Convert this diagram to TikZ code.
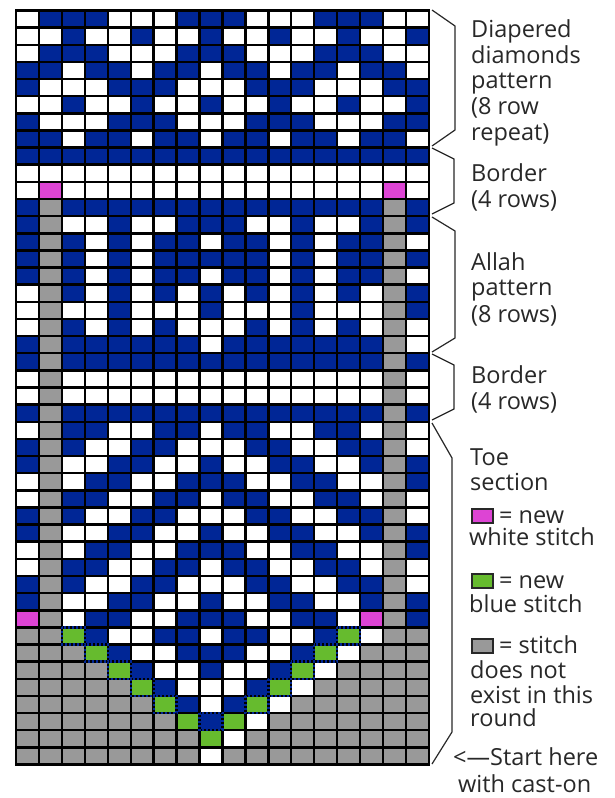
\documentclass[tikz,border=0pt]{standalone}
\usepackage{fontspec}
\setmainfont{Open Sans}
\definecolor{cB}{RGB}{0,38,150}
\definecolor{cW}{RGB}{255,255,255}
\definecolor{cG}{RGB}{153,153,153}
\definecolor{cP}{RGB}{221,68,212}
\definecolor{cL}{RGB}{102,187,46}
\definecolor{txt}{RGB}{40,40,40}
\def\xo{16.2}\def\yo{10.5}\def\cw{22.92}\def\ch{17.136}
\newcount\colidx
\newcommand\cellrow[2]{\global\colidx=0 \def\currow{#1}\cellparse#2\relax}
\def\cellparse#1{\ifx#1\relax\else\global\advance\colidx by 1
  \fill[c#1] ({\xo+(\the\colidx-1)*\cw},{\yo+(\currow-1)*\ch}) rectangle ++(\cw,\ch);%
  \expandafter\cellparse\fi}
\newcommand\seamcell[2]{\draw[seam] ({\xo+(#2-1)*\cw},{\yo+(#1-1)*\ch}) rectangle ++(\cw,\ch);}
\begin{document}
\begin{tikzpicture}[x=1pt,y=-1pt,
  lab/.style={anchor=base west, inner sep=0pt, text=txt, font=\fontsize{23.5}{26}\selectfont},
  brk/.style={draw=txt, line width=1.2pt, line join=miter},
  gridln/.style={line width=2.5pt, draw=black},
  seam/.style={draw=cB, line width=2.4pt, dash pattern=on 2pt off 2pt},
  keybox/.style={draw=txt, line width=2pt, minimum width=21pt, minimum height=14pt, inner sep=0pt, anchor=north west}]
\fill[white] (0,0) rectangle (615,798);
\useasboundingbox (0,0) rectangle (615,798);
% chart cells
\cellrow{1}{WBBBWWWBBBWWWBBBWW}
\cellrow{2}{WWBWWBWWBWWBWWBWWB}
\cellrow{3}{WBBBWWWBBBWWWBBBWW}
\cellrow{4}{BBWBBWBBWBBWBBWBBW}
\cellrow{5}{BWWWBBBWWWBBBWWWBB}
\cellrow{6}{WWBWWBWWBWWBWWBWWB}
\cellrow{7}{BWWWBBBWWWBBBWWWBB}
\cellrow{8}{BBWBBWBBWBBWBBWBBW}
\cellrow{9}{BBBBBBBBBBBBBBBBBB}
\cellrow{10}{WWWWWWWWWWWWWWWWWW}
\cellrow{11}{WPWWWWWWWWWWWWWWPW}
\cellrow{12}{BGBBBBBBBBBBBBBBGB}
\cellrow{13}{BGWWBWWBBBWWBWWBGB}
\cellrow{14}{BGBWBWBBWBBWBWBBGW}
\cellrow{15}{BGBWBWBBBBBWBWBBGB}
\cellrow{16}{BGBWBWBBWBBWBWBBGW}
\cellrow{17}{WGBWBWBWBWBWBWBWGB}
\cellrow{18}{WGWWBWWWBWWWBWWWGB}
\cellrow{19}{WGBWBWBWWWBWBWBWGW}
\cellrow{20}{BGBBBBBBWBBBBBBBGW}
\cellrow{21}{BGBBBBBBBBBBBBBBGB}
\cellrow{22}{WGWWWWWWWWWWWWWWGW}
\cellrow{23}{WGWWWWWWWWWWWWWWGW}
\cellrow{24}{BGBBBBBBBBBBBBBBGB}
\cellrow{25}{WGBBWWBBWBBWWBBWGW}
\cellrow{26}{BGBWWBBWWWBBWWBBGW}
\cellrow{27}{BGWWBBWWBWWBBWWBGB}
\cellrow{28}{WGWBBWWBBBWWBBWWGB}
\cellrow{29}{WGBBWWBBWBBWWBBWGW}
\cellrow{30}{BGBWWBBWWWBBWWBBGW}
\cellrow{31}{BGWWBBWWBWWBBWWBGB}
\cellrow{32}{WGWBBWWBBBWWBBWWGB}
\cellrow{33}{WGBBWWBBWBBWWBBWGW}
\cellrow{34}{BGBWWBBWWWBBWWBBGW}
\cellrow{35}{BGWWBBWWBWWBBWWBGB}
\cellrow{36}{PGWBBWWBBBWWBBWPGB}
\cellrow{37}{GGLBWWBBWBBWWBLWGG}
\cellrow{38}{GGGLBWWBBBWWBLWGGG}
\cellrow{39}{GGGGLBWWBWWBLWGGGG}
\cellrow{40}{GGGGGLBWWWBLWGGGGG}
\cellrow{41}{GGGGGGLBWBLWGGGGGG}
\cellrow{42}{GGGGGGGLBLWGGGGGGG}
\cellrow{43}{GGGGGGGGLWGGGGGGGG}
\cellrow{44}{GGGGGGGGWGGGGGGGGG}
% grid lines
\foreach \i in {1,...,17} \draw[gridln] ({\xo+\i*\cw},\yo) -- ++(0,{44*\ch});
\foreach \j in {1,...,43} \draw[gridln] (\xo,{\yo+\j*\ch}) -- ++({18*\cw},0);
\draw[gridln] (\xo,\yo) rectangle ++({18*\cw},{44*\ch});
% dotted seams around increases
\seamcell{37}{3}\seamcell{37}{15}
\seamcell{38}{4}\seamcell{38}{14}
\seamcell{39}{5}\seamcell{39}{13}
\seamcell{40}{6}\seamcell{40}{12}
\seamcell{41}{7}\seamcell{41}{11}
\seamcell{42}{9}
% brackets
\coordinate (b1a) at (432,10);  \coordinate (b1b) at (455,26);  \coordinate (b1c) at (455,130); \coordinate (b1d) at (432,146);
\coordinate (b2a) at (432,148); \coordinate (b2b) at (454,159); \coordinate (b2c) at (454,203); \coordinate (b2d) at (432,214);
\coordinate (b3a) at (432,217); \coordinate (b3b) at (455,231); \coordinate (b3c) at (455,338); \coordinate (b3d) at (432,352);
\coordinate (b4a) at (432,354); \coordinate (b4b) at (454,365); \coordinate (b4c) at (454,409); \coordinate (b4d) at (432,420);
\coordinate (b5a) at (432,423); \coordinate (b5b) at (452,458); \coordinate (b5c) at (452,732); \coordinate (b5d) at (432,764);
\draw[brk] (b1a) -- (b1b) -- (b1c) -- (b1d);
\draw[brk] (b2a) -- (b2b) -- (b2c) -- (b2d);
\draw[brk] (b3a) -- (b3b) -- (b3c) -- (b3d);
\draw[brk] (b4a) -- (b4b) -- (b4c) -- (b4d);
\draw[brk] (b5a) -- (b5b) -- (b5c) -- (b5d);
% labels
\node[lab] (t1) at (471,37) {Diapered};
\node[lab] (t2) at (471,63) {diamonds};
\node[lab] (t3) at (471,88) {pattern};
\node[lab] (t4) at (471,114) {(8 row};
\node[lab] (t5) at (471,140) {repeat)};
\node[lab] (t6) at (471,181) {Border};
\node[lab] (t7) at (471,207) {(4 rows)};
\node[lab] (t8) at (471,270) {Allah};
\node[lab] (t9) at (471,295) {pattern};
\node[lab] (t10) at (471,322) {(8 rows)};
\node[lab] (t11) at (471,383) {Border};
\node[lab] (t12) at (471,409) {(4 rows)};
\node[lab] (t13) at (470,465) {Toe};
\node[lab] (t14) at (470,490) {section};
\node[keybox, fill=cP] (kp) at (471,508) {};
\node[lab] (t15) at (499,523) {= new};
\node[lab] (t16) at (469,545) {white stitch};
\node[keybox, fill=cL] (kl) at (471,573) {};
\node[lab] (t17) at (499,588) {= new};
\node[lab] (t18) at (469,612) {blue stitch};
\node[keybox, fill=cG] (kg) at (471,638) {};
\node[lab] (t19) at (499,653) {= stitch};
\node[lab] (t20) at (470,678) {does not};
\node[lab] (t21) at (470,703) {exist in this};
\node[lab] (t22) at (470,726) {round};
\node[lab] (t23) at (453,765) {<—Start here};
\node[lab] (t24) at (458,792) {with cast-on};
\end{tikzpicture}
\end{document}
